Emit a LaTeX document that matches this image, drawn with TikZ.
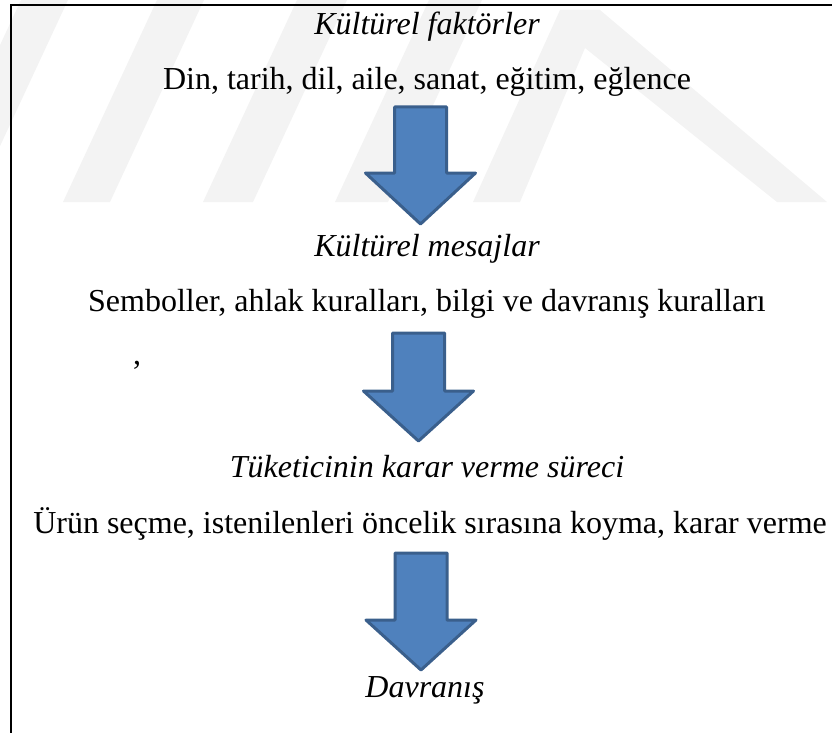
\documentclass[tikz,border=0pt]{standalone}
\usepackage{fontspec}
\setmainfont{Liberation Serif}
\usepackage{xcolor}
\usepackage{tikz}
\definecolor{arrowblue}{HTML}{4F81BD}
\definecolor{arrowrim}{HTML}{3A5F8C}
\definecolor{markgray}{HTML}{F3F3F3}
\tikzset{
	textline/.style={font=\fontsize{32}{38}\selectfont,anchor=base,inner sep=0pt},
	heading/.style={textline,font=\fontsize{32}{38}\selectfont\itshape},
	blockarrow/.style={fill=arrowblue,draw=arrowrim,line width=3pt,line join=round},
	wmark/.style={fill=markgray,draw=none}
}
% down block arrow: centre x, top, wings, tip
\newcommand{\downblock}[4]{%
	\draw[blockarrow] (#1-26,#2) -- (#1+26,#2) -- (#1+26,#3) -- (#1+55,#3)
		-- (#1,#4) -- (#1-55,#3) -- (#1-26,#3) -- cycle;}

\begin{document}
\begin{tikzpicture}[x=1pt,y=-1pt]
		\useasboundingbox (0,0) rectangle (832,733);
		% watermark
		\begin{scope}
		\clip (0,0) rectangle (832,733);
		\fill[wmark] (-73,202) -- (-26,202) -- (68,0) -- (21,0) -- cycle;
		\fill[wmark] (63,202) -- (110,202) -- (204,0) -- (157,0) -- cycle;
		\fill[wmark] (203,202) -- (253,202) -- (347,0) -- (297,0) -- cycle;
		\fill[wmark] (335,202) -- (388,202) -- (482,0) -- (429,0) -- cycle;
		\fill[wmark] (473,202) -- (560,10) -- (600,10) -- (827,202)
			-- (777,202) -- (585,48) -- (520,202) -- cycle;
		\end{scope}
		%
		% frame
		\draw[line width=2pt] (832,5) -- (11,5) -- (11,733);
		%
		\node[heading] (factors) at (427,35) {Kültürel faktörler};
		\node[textline] (factlist) at (427,90) {Din, tarih, dil, aile, sanat, eğitim, eğlence};
		\node[heading] (messages) at (427,256) {Kültürel mesajlar};
		\node[textline] (msglist) at (427,311) {Semboller, ahlak kuralları, bilgi ve davranış kuralları};
		\node[textline] (stray) at (137,364) {,};
		\node[heading] (decision) at (427,477) {Tüketicinin karar verme süreci};
		\node[textline] (steplist) at (430,533) {Ürün seçme, istenilenleri öncelik sırasına koyma, karar verme};
		\node[heading] (behaviour) at (425,697) {Davranış};
		%
		% block arrows
		\downblock{420.5}{107}{173}{224}
		\downblock{418.5}{333}{391}{441}
		\downblock{421}{553}{620}{670}
\end{tikzpicture}
\end{document}
